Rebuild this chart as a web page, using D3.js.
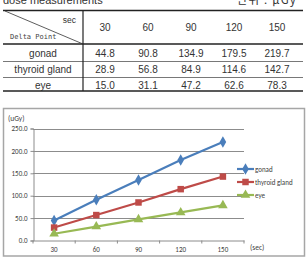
<!DOCTYPE html>
<html><head><meta charset="utf-8">
<script src="https://cdn.jsdelivr.net/npm/d3@7"></script>
<style>html,body{margin:0;padding:0;background:#fff;overflow:hidden}svg{display:block}</style>
</head><body>
<svg id="c" width="306" height="258"></svg>
<script>
const categories = ["30","60","90","120","150"];
const seriesNames = ["gonad","thyroid gland","eye"];
const gonad = [44.8, 90.8, 134.9, 179.5, 219.7];
const thyroid = [28.9, 56.8, 84.9, 114.6, 142.7];
const eye = [15.0, 31.1, 47.2, 62.6, 78.3];
const yTicks = [0, 50, 100, 150, 200, 250];
const colors = ["#4A7EBB", "#BE4B48", "#98B954"];

const series = [gonad, thyroid, eye];
const svg = d3.select("#c");
const tblFont = "'Liberation Sans', 'Noto Sans CJK KR', sans-serif";

// ---- Table ----
svg.append("text").attr("x", 3).attr("y", 4).attr("font-family", tblFont)
  .attr("font-size", 11).attr("fill", "#333").text("dose measurements");
svg.append("text").attr("x", 297).attr("y", 4).attr("text-anchor", "end").attr("font-family", "'Noto Sans CJK KR', sans-serif")
  .attr("font-size", 11.5).attr("letter-spacing", 1.2).attr("fill", "#333").text("단위 : μGy");

const colX = d3.scalePoint().domain(categories).range([105, 277]);
const hdrY = 27, rowYs = [53, 69.5, 85];
const tl = svg.append("g");
tl.append("line").attr("x1", 3).attr("x2", 303).attr("y1", 10.5).attr("y2", 10.5).attr("stroke", "#222").attr("stroke-width", 1.5);
tl.append("line").attr("x1", 3).attr("x2", 303).attr("y1", 44).attr("y2", 44).attr("stroke", "#222").attr("stroke-width", 1.5);
tl.append("line").attr("x1", 3).attr("x2", 303).attr("y1", 61.5).attr("y2", 61.5).attr("stroke", "#555").attr("stroke-width", 0.8);
tl.append("line").attr("x1", 3).attr("x2", 303).attr("y1", 77.5).attr("y2", 77.5).attr("stroke", "#555").attr("stroke-width", 0.8);
tl.append("line").attr("x1", 3).attr("x2", 303).attr("y1", 91).attr("y2", 91).attr("stroke", "#222").attr("stroke-width", 1.5);
tl.append("line").attr("x1", 83).attr("x2", 83).attr("y1", 10.5).attr("y2", 91).attr("stroke", "#222").attr("stroke-width", 1.2);
tl.append("line").attr("x1", 5).attr("x2", 83).attr("y1", 11).attr("y2", 44).attr("stroke", "#333").attr("stroke-width", 0.8);
tl.append("text").attr("x", 76).attr("y", 23).attr("text-anchor", "end").attr("font-family", tblFont)
  .attr("font-size", 8.5).attr("fill", "#333").text("sec");
tl.append("text").attr("x", 10).attr("y", 39).attr("font-family", "'DejaVu Sans Mono', monospace")
  .attr("font-size", 7).attr("fill", "#444").text("Delta Point");
categories.forEach(c => {
  tl.append("text").attr("x", colX(c)).attr("y", hdrY + 4).attr("text-anchor", "middle")
    .attr("font-family", tblFont).attr("font-size", 10).attr("fill", "#333").text(c);
});
series.forEach((s, i) => {
  tl.append("text").attr("x", 43).attr("y", rowYs[i] + 3.5).attr("text-anchor", "middle")
    .attr("font-family", tblFont).attr("font-size", 10).attr("fill", "#333").text(seriesNames[i]);
  s.forEach((v, j) => {
    tl.append("text").attr("x", colX(categories[j])).attr("y", rowYs[i] + 3.5).attr("text-anchor", "middle")
      .attr("font-family", tblFont).attr("font-size", 10).attr("fill", "#333").text(v.toFixed(1));
  });
});

// ---- Chart ----
svg.append("rect").attr("x", 3.5).attr("y", 108.5).attr("width", 301).attr("height", 147.5)
  .attr("fill", "#fff").attr("stroke", "#A6A6A6").attr("stroke-width", 1.5);

const x = d3.scaleBand().domain(categories).range([33, 244]);
const y = d3.scaleLinear().domain([0, 250]).range([240.5, 128.5]);
const chFont = "Calibri, Carlito, 'Liberation Sans', sans-serif";

const g = svg.append("g");
g.selectAll(".grid").data(yTicks.filter(t => t > 0)).join("line")
  .attr("x1", 33).attr("x2", 244).attr("y1", d => Math.round(y(d)) + 0.5).attr("y2", d => Math.round(y(d)) + 0.5)
  .attr("stroke", "#8C8C8C").attr("stroke-width", 1);

const yAxis = g.append("g").attr("transform", "translate(33.5,0)")
  .call(d3.axisLeft(y).tickValues(yTicks).tickFormat(d3.format(".1f")).tickSize(3).tickPadding(3));
const xAxis = g.append("g").attr("transform", "translate(0,240.5)")
  .call(d3.axisBottom(x).tickSize(0).tickPadding(7));
// band boundary ticks
g.selectAll(".bt").data(categories.concat(["end"])).join("line")
  .attr("x1", (d, i) => i < categories.length ? x(d) : x.range()[1])
  .attr("x2", (d, i) => i < categories.length ? x(d) : x.range()[1])
  .attr("y1", 240.5).attr("y2", 243.5).attr("stroke", "#8C8C8C");
[yAxis, xAxis].forEach(a => {
  a.select(".domain").attr("stroke", "#8C8C8C");
  a.selectAll(".tick line").attr("stroke", "#8C8C8C");
  a.selectAll("text").attr("font-family", chFont).attr("font-size", 7).attr("fill", "#404040");
});

g.append("text").attr("x", 8).attr("y", 121).attr("font-family", chFont).attr("font-size", 7.5)
  .attr("fill", "#404040").text("(uGy)");
g.append("text").attr("x", 250).attr("y", 250).attr("font-family", chFont).attr("font-size", 7.5)
  .attr("fill", "#404040").text("(sec)");

const cx = d => x(d) + x.bandwidth() / 2;
const line = d3.line().x((d, i) => cx(categories[i])).y(d => y(d));
const sym = [d3.symbolDiamond, d3.symbolSquare, d3.symbolTriangle];
const symSize = [38, 42, 40];

series.forEach((s, i) => {
  g.append("path").datum(s).attr("d", line).attr("fill", "none")
    .attr("stroke", colors[i]).attr("stroke-width", 2.2);
  g.selectAll(".m" + i).data(s).join("path")
    .attr("transform", (d, j) => `translate(${cx(categories[j])},${y(d)})`)
    .attr("d", d3.symbol().type(sym[i]).size(symSize[i])).attr("fill", colors[i]);
});

// legend
const lg = svg.append("g");
const legY = [169, 182, 195];
seriesNames.forEach((n, i) => {
  lg.append("line").attr("x1", 237).attr("x2", 254).attr("y1", legY[i]).attr("y2", legY[i])
    .attr("stroke", colors[i]).attr("stroke-width", 2.2);
  lg.append("path").attr("transform", `translate(245.5,${legY[i]})`)
    .attr("d", d3.symbol().type(sym[i]).size(symSize[i])).attr("fill", colors[i]);
  lg.append("text").attr("x", 255).attr("y", legY[i] + 2.5).attr("font-family", chFont)
    .attr("font-size", 7).attr("fill", "#404040").text(n);
});
</script>
</body></html>
